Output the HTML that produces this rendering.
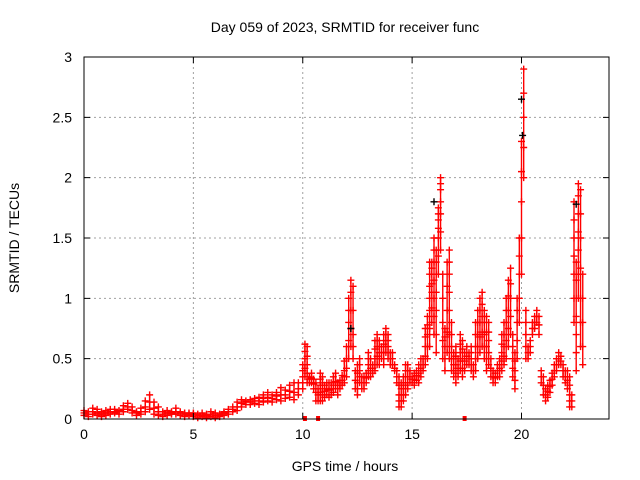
<!DOCTYPE html>
<html><head><meta charset="utf-8"><style>
body{margin:0;background:#fff}
svg{display:block;font-family:"Liberation Sans",sans-serif}
</style></head><body>
<svg id="chart" width="640" height="480" viewBox="0 0 640 480">
<rect width="640" height="480" fill="#fff"/>
<text x="345" y="32" text-anchor="middle" font-size="14">Day 059 of 2023, SRMTID for receiver func</text>
<text transform="translate(19,238) rotate(-90)" text-anchor="middle" font-size="14">SRMTID / TECUs</text>
<text x="345" y="471" text-anchor="middle" font-size="14">GPS time / hours</text>
<g id="grid"></g>
<g id="marks"></g>
<g id="axes"></g>
</svg>
<script>
const xTicks=[0,5,10,15,20];
const yTicks=[0,0.5,1,1.5,2,2.5,3];
const yTickLabels=["0","0.5","1","1.5","2","2.5","3"];
const hours=[0,0.2,0.4,0.6,0.8,1.0,1.2,1.4,1.6,1.8,2.0,2.2,2.4,2.6,2.8,3.0,3.2,3.4,3.6,3.8,4.0,4.2,4.4,4.6,4.8,5.0,5.2,5.4,5.6,5.8,6.0,6.2,6.4,6.6,6.8,7.0,
7.2,7.4,7.6,7.8,8.0,8.2,8.4,8.6,8.8,9.0,9.2,9.4,9.6,9.8,
10.0,10.1,10.2,10.3,10.4,10.5,10.6,10.7,10.8,10.9,11.0,11.1,11.2,11.3,11.4,11.5,11.6,11.7,11.8,11.9,
12.0,12.1,12.2,12.3,12.4,12.5,12.6,12.7,12.8,12.9,13.0,13.1,13.2,13.3,13.4,13.5,13.6,13.7,13.8,13.9,
14.0,14.1,14.2,14.3,14.4,14.5,14.6,14.7,14.8,14.9,15.0,15.1,15.2,15.3,15.4,15.5,15.6,15.7,15.8,15.9,
16.0,16.1,16.2,16.3,16.4,16.5,16.6,16.7,16.8,16.9,17.0,17.1,17.2,17.3,17.4,17.5,17.6,17.7,17.8,17.9,
18.0,18.1,18.2,18.3,18.4,18.5,18.6,18.7,18.8,18.9,19.0,19.1,19.2,19.3,19.4,19.5,19.6,19.7,19.8,19.9,
20.0,20.1,20.2,20.3,20.4,20.5,20.6,20.7,20.8,20.9,21.0,21.1,21.2,21.3,21.4,21.5,21.6,21.7,21.8,21.9,
22.0,22.1,22.2,22.3,22.4,22.5,22.6,22.7,22.8];
const tecu=[[0.03,0.05,0.07],[0.02,0.04,0.06],[0.04,0.06,0.09],[0.03,0.05,0.08],[0.02,0.04,0.06],[0.03,0.05,0.07],[0.04,0.06,0.08],[0.05,0.06,0.08],[0.04,0.06,0.07],[0.06,0.08,0.11],[0.08,0.1,0.13],[0.05,0.07,0.1],[0.03,0.05,0.06],[0.04,0.06,0.09],[0.06,0.1,0.15],[0.08,0.14,0.2],[0.04,0.09,0.14],[0.03,0.06,0.1],[0.02,0.04,0.06],[0.03,0.05,0.07],[0.04,0.05,0.06],[0.04,0.06,0.09],[0.03,0.05,0.06],[0.02,0.04,0.05],[0.03,0.04,0.05],[0.02,0.04,0.05],[0.01,0.03,0.04],[0.02,0.03,0.05],[0.01,0.03,0.04],[0.02,0.04,0.06],[0.01,0.03,0.05],[0.02,0.03,0.04],[0.03,0.05,0.06],[0.04,0.06,0.08],[0.06,0.08,0.1],[0.07,0.1,0.14],
[0.1,0.13,0.16],[0.12,0.14,0.15],[0.12,0.14,0.16],[0.13,0.15,0.17],[0.12,0.15,0.18],[0.14,0.17,0.2],[0.15,0.18,0.22],[0.14,0.17,0.2],[0.16,0.19,0.22],[0.15,0.2,0.26],[0.17,0.2,0.24],[0.18,0.23,0.28],[0.16,0.22,0.3],[0.2,0.25,0.3],
[0.25,0.3,0.35,0.4,0.45],[0.35,0.42,0.5,0.56,0.62],[0.3,0.38,0.45,0.52,0.6],[0.3,0.33,0.35],[0.3,0.34,0.38],[0.25,0.29,0.33],[0.15,0.22,0.3],[0.15,0.2,0.25],[0.15,0.22,0.28,0.33,0.38],[0.15,0.2,0.25,0.3,0.35],[0.18,0.23,0.28],[0.2,0.25,0.3],[0.18,0.24,0.3],[0.2,0.25,0.3],[0.22,0.28,0.35],[0.25,0.31,0.38],[0.2,0.25,0.3],[0.25,0.28,0.32],[0.28,0.32,0.36],[0.3,0.35,0.4,0.48],
[0.35,0.42,0.5,0.6],[0.5,0.65,0.8,0.9,1.0],[0.6,0.75,0.9,1.05,1.15],[0.5,0.6,0.7,0.9,1.1],[0.25,0.32,0.4],[0.2,0.25,0.3,0.38,0.45],[0.3,0.35,0.4,0.45,0.5],[0.25,0.3,0.35],[0.25,0.3,0.35],[0.3,0.34,0.38],[0.35,0.4,0.45,0.5,0.55],[0.35,0.42,0.5],[0.38,0.42,0.45],[0.4,0.45,0.5,0.58,0.65],[0.45,0.52,0.6,0.65,0.7],[0.45,0.5,0.55,0.6,0.65],[0.5,0.55,0.6],[0.45,0.5,0.55,0.62,0.7],[0.55,0.6,0.65,0.7,0.75],[0.5,0.55,0.6,0.65,0.7],
[0.45,0.5,0.55],[0.45,0.5,0.55],[0.4,0.42,0.45],[0.3,0.35,0.4],[0.1,0.15,0.2,0.28,0.35],[0.1,0.15,0.2,0.25,0.3],[0.15,0.2,0.25,0.3,0.35],[0.2,0.28,0.35,0.4,0.45],[0.25,0.3,0.35,0.4,0.45],[0.3,0.35,0.4],[0.3,0.33,0.35],[0.28,0.33,0.38],[0.32,0.36,0.4],[0.3,0.38,0.45],[0.35,0.42,0.5],[0.4,0.45,0.5],[0.45,0.52,0.6,0.68,0.75],[0.5,0.6,0.7,0.78,0.85],[0.6,0.75,0.9,1.0,1.1,1.2,1.3],[0.8,0.92,1.05,1.12,1.2,1.25,1.3],
[0.7,0.85,1.0,1.15,1.3,1.4,1.5],[0.55,0.7,0.9,1.05,1.2,1.3,1.4],[1.2,1.35,1.5,1.58,1.65,1.7,1.75],[1.4,1.55,1.7,1.8,1.9,1.95,2.0],[0.5,0.65,0.8,1.0,1.2],[0.4,0.5,0.6,0.68,0.75],[0.55,0.72,0.9,1.1,1.3],[0.5,0.7,0.9,1.05,1.2,1.3,1.4],[0.4,0.5,0.6,0.7,0.8],[0.35,0.4,0.45,0.5,0.55],[0.3,0.38,0.45,0.52,0.6],[0.35,0.42,0.5],[0.4,0.48,0.55,0.62,0.7],[0.35,0.42,0.5,0.58,0.65],[0.4,0.48,0.55],[0.45,0.52,0.6],[0.45,0.5,0.55],[0.4,0.45,0.5,0.55,0.6],[0.35,0.4,0.45],[0.4,0.5,0.6,0.7,0.8],
[0.5,0.6,0.7,0.8,0.9],[0.55,0.68,0.8,0.9,1.0],[0.6,0.72,0.85,0.95,1.05],[0.5,0.6,0.7,0.8,0.9],[0.4,0.5,0.6,0.72,0.85],[0.45,0.55,0.65,0.72,0.8],[0.35,0.42,0.5],[0.3,0.35,0.4],[0.3,0.34,0.38],[0.35,0.4,0.45],[0.35,0.42,0.5],[0.4,0.48,0.55,0.62,0.7],[0.45,0.52,0.6,0.7,0.8],[0.5,0.65,0.8,0.9,1.0],[0.6,0.75,0.9,1.02,1.15],[0.7,0.85,1.0,1.12,1.25],[0.35,0.42,0.5,0.6,0.7],[0.25,0.32,0.4,0.48,0.55],[0.5,0.65,0.8,0.9,1.0],[0.8,1.0,1.2,1.35,1.5],
[1.2,1.5,1.8,2.05,2.3],[2.0,2.25,2.5,2.7,2.9],[0.5,0.6,0.7,0.8,0.9],[0.5,0.55,0.6],[0.55,0.6,0.65],[0.7,0.75,0.8],[0.75,0.8,0.85],[0.8,0.85,0.9],[0.7,0.78,0.85],[0.3,0.35,0.4],[0.2,0.28,0.35],[0.15,0.2,0.25],[0.18,0.23,0.28],[0.22,0.27,0.32],[0.28,0.33,0.38],[0.35,0.4,0.45],[0.4,0.45,0.5],[0.45,0.5,0.55],[0.45,0.48,0.52],[0.35,0.4,0.45],
[0.3,0.35,0.4],[0.25,0.32,0.4],[0.1,0.15,0.2,0.28,0.35],[0.1,0.15,0.2],[0.8,1.0,1.2,1.35,1.5,1.65,1.8],[0.4,0.55,0.7,0.85,1.0,1.15,1.3],[1.0,1.2,1.4,1.55,1.7,1.85,1.95],[0.6,0.8,1.0,1.25,1.5,1.7,1.9],[0.45,0.6,0.8,1.0,1.2]];
const blackHours=[16.0,20.0,20.05,22.5,12.2];
const blackTecu=[1.8,2.65,2.35,1.78,0.75];
const zeroHours=[10.1,10.7,17.4];

const X0=84,X1=609,Y0=419,Y1=57;
function sx(h){return X0+(h/24)*(X1-X0);}
function sy(v){return Y0-(v/3)*(Y0-Y1);}
const NS="http://www.w3.org/2000/svg";
const grid=document.getElementById('grid'),marks=document.getElementById('marks'),axes=document.getElementById('axes');
function mk(t,a,p){const e=document.createElementNS(NS,t);for(const k in a)e.setAttribute(k,a[k]);p.appendChild(e);return e;}
xTicks.forEach(t=>{const x=sx(t);
 if(t>0){const g=mk('line',{x1:x,x2:x,y1:Y0,y2:Y1,stroke:'#a0a0a0','stroke-dasharray':'2,3'},grid);
 
 }
 const tk=mk('path',{d:`M${x},${Y0}v-6M${x},${Y1}v6`,stroke:'#000'},axes);
 
 
 const l=mk('text',{x:x,y:Y0+20,'text-anchor':'middle','font-size':'14'},axes);l.textContent=t;
 
 
});
yTicks.forEach((t,i)=>{const y=sy(t);
 if(t>0&&t<3){const g=mk('line',{x1:X0,x2:X1,y1:y,y2:y,stroke:'#a0a0a0','stroke-dasharray':'2,3'},grid);
 
 }
 const tk=mk('path',{d:`M${X0},${y}h6M${X1},${y}h-6`,stroke:'#000'},axes);
 
 
 const l=mk('text',{x:X0-12,y:y+5,'text-anchor':'end','font-size':'14'},axes);l.textContent=yTickLabels[i];
 
 
});
const frame=mk('rect',{x:X0,y:Y1,width:X1-X0,height:Y0-Y1,fill:'none',stroke:'#000'},axes);


function plus(h,v,c){const x=sx(h),y=sy(v);
 return mk('path',{d:`M${x-3.5},${y}h7M${x},${y-3.5}v7`,stroke:c,'stroke-width':'1.4'},marks);}
hours.forEach((h,i)=>{
 const vals=tecu[i];
 const lo=Math.min(...vals),hi=Math.max(...vals);
 const bar=mk('line',{x1:sx(h),x2:sx(h),y1:sy(lo),y2:sy(hi),stroke:'#ff0000','stroke-width':'1.4'},marks);
 
 
 vals.forEach(v=>{
  const p=plus(h,v,'#ff0000');
  
  
 });
});
blackHours.forEach((h,i)=>{
 const p=plus(h,blackTecu[i],'#000');
 
 
});
zeroHours.forEach(h=>{
 const r=mk('rect',{x:sx(h)-2,y:Y0-3,width:4,height:5,fill:'#ff0000'},marks);
 
 
});
</script>
</body></html>
